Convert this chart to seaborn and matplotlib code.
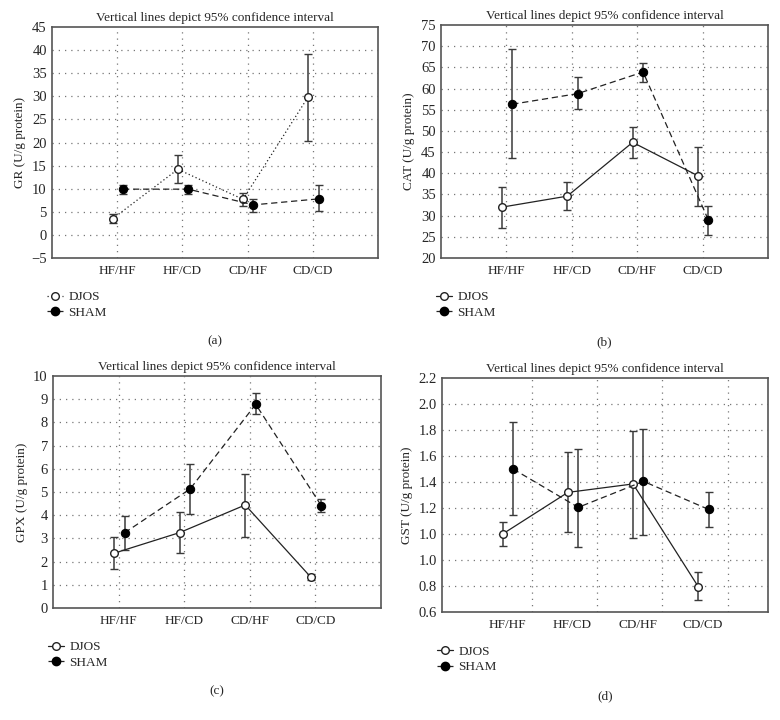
import numpy as np
import pandas as pd
import matplotlib
matplotlib.use("Agg")
import matplotlib.pyplot as plt
import seaborn as sns
from matplotlib.lines import Line2D

groups = ["HF/HF", "HF/CD", "CD/HF", "CD/CD"]

# GR (panel a)
gr_djos = [3.5, 14.2, 7.7, 29.9]
gr_djos_lo = [2.5, 11.2, 6.3, 20.4]
gr_djos_hi = [4.6, 17.4, 9.0, 39.2]
gr_sham = [9.9, 9.9, 6.5, 7.8]
gr_sham_lo = [8.8, 8.9, 5.0, 5.2]
gr_sham_hi = [10.9, 10.9, 7.8, 10.8]

# CAT (panel b)
cat_djos = [32.0, 34.6, 47.3, 39.4]
cat_djos_lo = [27.0, 31.3, 43.7, 32.3]
cat_djos_hi = [36.7, 37.9, 50.9, 46.3]
cat_sham = [56.3, 58.8, 63.9, 28.9]
cat_sham_lo = [43.5, 55.1, 61.6, 25.4]
cat_sham_hi = [69.3, 62.7, 66.1, 32.3]

# GPX (panel c)
gpx_djos = [2.36, 3.25, 4.44, 1.33]
gpx_djos_lo = [1.68, 2.36, 3.08, 1.19]
gpx_djos_hi = [3.04, 4.15, 5.76, 1.46]
gpx_sham = [3.24, 5.13, 8.78, 4.41]
gpx_sham_lo = [2.51, 4.04, 8.38, 4.15]
gpx_sham_hi = [3.98, 6.19, 9.25, 4.68]

# GST (panel d) - values on the evenly spaced tick scale of the original
gst_djos = [1.20, 1.52, 1.585, 0.795]
gst_djos_lo = [1.107, 1.212, 1.171, 0.695]
gst_djos_hi = [1.292, 1.829, 1.996, 0.909]
gst_sham = [1.70, 1.405, 1.605, 1.389]
gst_sham_lo = [1.346, 1.101, 1.194, 1.256]
gst_sham_hi = [2.061, 1.852, 2.009, 1.526]
gst_ticklabels = ["0.6", "0.8", "1.0", "1.0", "1.2", "1.4", "1.6", "1.8", "2.0", "2.2"]

sns.set_style("white")
plt.rcParams["font.family"] = ["Liberation Serif", "DejaVu Serif"]
plt.rcParams["font.size"] = 9.5

W, H = 780, 720
fig = plt.figure(figsize=(W / 100, H / 100), dpi=100)


def make_ax(left, top, right, bottom):
    return fig.add_axes([left / W, 1 - bottom / H, (right - left) / W, (bottom - top) / H])


def draw_panel(ax, djos, djos_lo, djos_hi, sham, sham_lo, sham_hi, djos_ls, ylabel,
               ylim, yticks, letter, yticklabels=None, vgrid=None):
    x = np.arange(len(groups))
    xd = x - 0.07
    xs = x + 0.09
    for xx, m, lo, hi in [(xd, djos, djos_lo, djos_hi), (xs, sham, sham_lo, sham_hi)]:
        m = np.array(m)
        ax.errorbar(xx, m, yerr=[m - np.array(lo), np.array(hi) - m], fmt="none",
                    ecolor="#3a3a3a", elinewidth=1.1, capsize=3.2, capthick=1.0, zorder=2)
    df = pd.DataFrame({"x": np.r_[xd, xs], "y": np.r_[djos, sham],
                       "grp": ["DJOS"] * 4 + ["SHAM"] * 4})
    sns.lineplot(data=df[df.grp == "DJOS"], x="x", y="y", ax=ax, color="#222222",
                 linewidth=0.9, linestyle=djos_ls, marker="o", markersize=5.5,
                 markerfacecolor="white", markeredgecolor="#222222", markeredgewidth=1.0,
                 zorder=3, legend=False)
    sns.lineplot(data=df[df.grp == "SHAM"], x="x", y="y", ax=ax, color="#222222",
                 linewidth=0.9, linestyle=(0, (5, 3)), marker="o", markersize=6,
                 markerfacecolor="black", markeredgecolor="black", zorder=3, legend=False)
    ax.set_xlim(-1, 4)
    ax.set_ylim(*ylim)
    ax.set_yticks(yticks)
    if yticklabels is not None:
        ax.set_yticklabels(yticklabels)
    ax.set_xticks(x)
    ax.set_xticklabels(groups)
    ax.tick_params(axis="x", length=0, labelsize=9.5, pad=5)
    ax.tick_params(axis="y", length=3.5, width=1.0, direction="inout", color="#444444",
                   labelsize=10.5, pad=2)
    ax.set_xlabel("")
    ax.set_ylabel(ylabel, fontsize=9.5, labelpad=4)
    for yt in yticks[1:-1]:
        ax.axhline(yt, color="#777777", linestyle=(0, (1, 4)), linewidth=0.9, zorder=1)
    for xv in (x if vgrid is None else vgrid):
        ax.axvline(xv, color="#777777", linestyle=(0, (1, 4)), linewidth=0.9, zorder=1)
    for s in ax.spines.values():
        s.set_color("#555555")
        s.set_linewidth(1.2)
    ax.set_title("Vertical lines depict 95% confidence interval", fontsize=9.5, pad=4)
    handles = [
        Line2D([], [], color="#222222", linestyle=djos_ls, marker="o", markersize=5.5,
               markerfacecolor="white", markeredgecolor="#222222", linewidth=0.9),
        Line2D([], [], color="#222222", linestyle=(0, (3, 2)), marker="o", markersize=6,
               markerfacecolor="black", markeredgecolor="black", linewidth=0.9),
    ]
    ax.legend(handles, ["DJOS", "SHAM"], loc="upper left", bbox_to_anchor=(-0.03, -0.12),
              frameon=False, handlelength=1.2, handletextpad=0.4, labelspacing=0.25,
              fontsize=9.5, borderaxespad=0)
    ax.text(0.5, -0.36, f"({letter})", transform=ax.transAxes, ha="center", va="center",
            fontsize=9.5)


ax_a = make_ax(52, 27, 378, 258)
draw_panel(ax_a, gr_djos, gr_djos_lo, gr_djos_hi, gr_sham, gr_sham_lo, gr_sham_hi,
           (0, (1, 2)), "GR (U/g protein)", (-5, 45), np.arange(-5, 46, 5), "a")

ax_b = make_ax(441, 25, 768, 258)
draw_panel(ax_b, cat_djos, cat_djos_lo, cat_djos_hi, cat_sham, cat_sham_lo, cat_sham_hi,
           "-", "CAT (U/g protein)", (20, 75), np.arange(20, 76, 5), "b")

ax_c = make_ax(53, 376, 381, 608)
draw_panel(ax_c, gpx_djos, gpx_djos_lo, gpx_djos_hi, gpx_sham, gpx_sham_lo, gpx_sham_hi,
           "-", "GPX (U/g protein)", (0, 10), np.arange(0, 11, 1), "c")

ax_d = make_ax(442, 378, 768, 612)
gst_ticks = 0.6 + 0.2 * np.arange(len(gst_ticklabels))
draw_panel(ax_d, gst_djos, gst_djos_lo, gst_djos_hi, gst_sham, gst_sham_lo, gst_sham_hi,
           "-", "GST (U/g protein)", (0.6, 2.4), gst_ticks, "d",
           yticklabels=gst_ticklabels, vgrid=np.arange(4) + 0.38)

fig.savefig("out.png", dpi=100)
